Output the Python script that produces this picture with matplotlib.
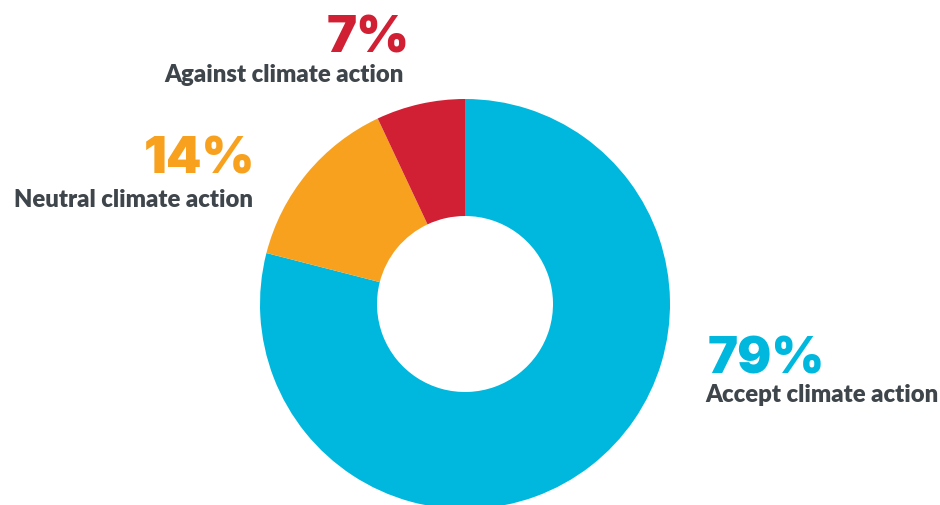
import matplotlib
matplotlib.use("Agg")
import matplotlib.pyplot as plt

# Survey shares, clockwise from 12 o'clock
categories = ["Accept climate action", "Neutral climate action", "Against climate action"]
shares = [79, 14, 7]
colors = ["#00b8de", "#f7a11f", "#d12033"]

W, H = 940, 506
fig = plt.figure(figsize=(W / 100, H / 100), dpi=100)
ax = fig.add_axes([0, 0, 1, 1])

cx, cy = 465, H - 305
r_out, r_in = 205, 88
ax.pie(shares, colors=colors, startangle=90, counterclock=False,
       center=(cx, cy), radius=r_out, frame=True,
       wedgeprops=dict(width=r_out - r_in, linewidth=0))
ax.set_xlim(0, W)
ax.set_ylim(0, H)
ax.set_aspect("equal")
ax.axis("off")

label_color = "#3e454b"
num_font = dict(family="Inter", fontweight="black", fontsize=36.5)
lab_font = dict(family="Lato", fontweight="heavy", fontsize=17.2)

# (percent text x, baseline), (label x, baseline), alignment
placements = [
    ((708, 373), (705, 402), "left"),
    ((255, 174), (253, 207), "right"),
    ((410, 52), (404, 82), "right"),
]
for cat, val, col, (npos, lpos, ha) in zip(categories, shares, colors, placements):
    ax.text(npos[0], H - npos[1], f"{val}%", color=col, ha=ha, va="baseline", **num_font)
    ax.text(lpos[0], H - lpos[1], cat, color=label_color, ha=ha, va="baseline", **lab_font)

fig.savefig("out.png", dpi=100)
